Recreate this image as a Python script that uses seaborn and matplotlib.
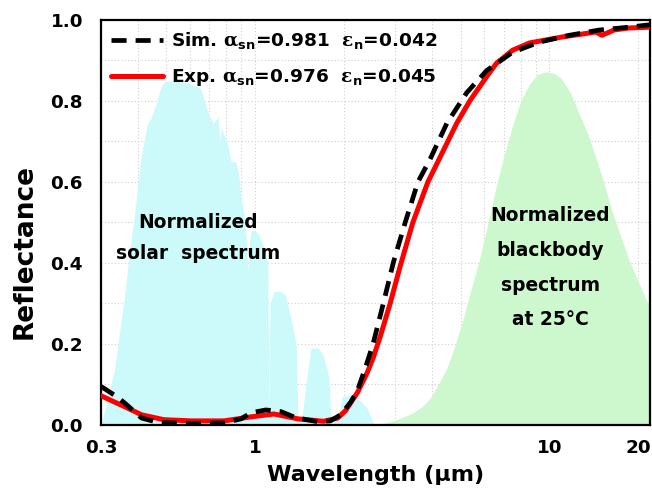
import matplotlib
matplotlib.use("Agg")
import matplotlib.pyplot as plt
from matplotlib.ticker import FixedLocator, FixedFormatter, MultipleLocator, FormatStrFormatter
import seaborn as sns
import pandas as pd

# Normalized AM1.5 solar spectrum (wavelength in um, normalized irradiance)
solar_wl = [0.300, 0.310, 0.322, 0.334, 0.350, 0.361, 0.375, 0.390, 0.410, 0.430,
            0.445, 0.460, 0.480, 0.490, 0.520, 0.550, 0.580, 0.620, 0.655, 0.673,
            0.694, 0.720, 0.750, 0.760, 0.768, 0.790, 0.810, 0.830, 0.860, 0.880,
            0.897, 0.920, 0.935, 0.947, 0.960, 0.970, 1.000, 1.030, 1.070, 1.106,
            1.115, 1.125, 1.160, 1.220, 1.270, 1.320, 1.380, 1.400, 1.440, 1.490,
            1.550, 1.640, 1.710, 1.780, 1.820, 1.920, 1.980, 2.110, 2.280, 2.410,
            2.520, 2.600]
solar_val = [0.00, 0.04, 0.09, 0.14, 0.25, 0.32, 0.43, 0.52, 0.66, 0.74,
             0.76, 0.79, 0.835, 0.845, 0.85, 0.85, 0.845, 0.84, 0.83, 0.80,
             0.77, 0.745, 0.76, 0.70, 0.735, 0.71, 0.69, 0.65, 0.65, 0.62,
             0.56, 0.52, 0.45, 0.38, 0.46, 0.48, 0.48, 0.47, 0.44, 0.40,
             0.03, 0.30, 0.33, 0.33, 0.32, 0.27, 0.20, 0.01, 0.01, 0.10,
             0.19, 0.19, 0.17, 0.12, 0.00, 0.02, 0.07, 0.075, 0.06, 0.04,
             0.005, 0.00]

# Normalized blackbody spectrum at 25 C
bb_wl = [2.60, 2.70, 3.00, 3.20, 3.44, 3.70, 3.93, 4.20, 4.49, 4.80,
         5.09, 5.40, 5.80, 6.20, 6.61, 7.00, 7.51, 8.00, 8.55, 9.10,
         9.75, 10.4, 11.0, 11.8, 12.6, 13.5, 14.4, 15.3, 16.3, 17.4,
         18.6, 19.9, 21.3, 23.0]
bb_val = [0.000, 0.003, 0.012, 0.020, 0.030, 0.045, 0.065, 0.100, 0.140, 0.200,
          0.260, 0.330, 0.410, 0.500, 0.590, 0.660, 0.740, 0.800, 0.840, 0.865,
          0.872, 0.868, 0.855, 0.820, 0.770, 0.720, 0.660, 0.600, 0.530, 0.470,
          0.410, 0.360, 0.310, 0.270]

# Simulated reflectance
sim_wl = [0.300, 0.339, 0.361, 0.412, 0.470, 0.608, 0.786, 0.897, 0.969, 1.089,
          1.224, 1.376, 1.633, 1.806, 1.953, 2.110, 2.230, 2.370, 2.520, 2.730,
          2.950, 3.240, 3.580, 3.930, 4.490, 5.240, 6.130, 7.500, 9.250, 11.70,
          14.80, 18.60, 22.00]
sim_r = [0.095, 0.070, 0.054, 0.017, 0.006, 0.004, 0.005, 0.015, 0.030, 0.037,
         0.033, 0.018, 0.008, 0.010, 0.025, 0.055, 0.085, 0.140, 0.200, 0.300,
         0.400, 0.500, 0.600, 0.655, 0.745, 0.820, 0.875, 0.920, 0.945, 0.962,
         0.975, 0.982, 0.988]

# Measured reflectance
exp_wl = [0.300, 0.330, 0.361, 0.412, 0.490, 0.608, 0.786, 0.969, 1.160, 1.400,
          1.710, 1.910, 2.030, 2.230, 2.410, 2.520, 2.670, 2.880, 3.110, 3.440,
          3.870, 4.250, 4.850, 5.370, 5.800, 6.270, 6.620, 7.500, 8.560, 11.10,
          14.40, 15.10, 16.60, 18.60, 22.00]
exp_r = [0.072, 0.058, 0.045, 0.025, 0.013, 0.010, 0.010, 0.020, 0.027, 0.015,
         0.009, 0.017, 0.035, 0.080, 0.130, 0.165, 0.220, 0.300, 0.390, 0.500,
         0.600, 0.660, 0.745, 0.800, 0.835, 0.870, 0.893, 0.925, 0.943, 0.958,
         0.970, 0.962, 0.975, 0.980, 0.982]

x_ticks = [0.3, 1, 10, 20]
x_ticklabels = ["0.3", "1", "10", "20"]
x_minor = [0.4, 0.5, 0.6, 0.7, 0.8, 0.9, 2, 3, 4, 5, 6, 7, 8, 9]

sns.set_style("white")
plt.rcParams["font.family"] = ["DejaVu Sans"]
plt.rcParams["font.weight"] = "bold"
plt.rcParams["text.color"] = "black"
plt.rcParams["axes.labelcolor"] = "black"
plt.rcParams["xtick.color"] = "black"
plt.rcParams["ytick.color"] = "black"
plt.rcParams["mathtext.fontset"] = "custom"
plt.rcParams["mathtext.rm"] = "DejaVu Sans:bold"
plt.rcParams["mathtext.bf"] = "DejaVu Sans:bold"
plt.rcParams["mathtext.it"] = "DejaVu Serif"

fig = plt.figure(figsize=(6.52, 4.97), dpi=100)
ax = fig.add_axes([0.155, 0.145, 0.842, 0.815])

ax.fill_between(solar_wl, 0, solar_val, color="#ccf9f9", lw=0, zorder=1)
ax.fill_between(bb_wl, 0, bb_val, color="#cdf7cd", lw=0, zorder=1)

sim_df = pd.DataFrame({"wl": sim_wl, "r": sim_r})
exp_df = pd.DataFrame({"wl": exp_wl, "r": exp_r})

sns.lineplot(data=sim_df, x="wl", y="r", ax=ax, color="black", lw=3.4,
             linestyle=(0, (3.2, 1.9)), estimator=None, sort=False,
             label=r"Sim. $\alpha_{\mathbf{sn}}$=0.981  $\varepsilon_{\mathbf{n}}$=0.042",
             zorder=4)
sns.lineplot(data=exp_df, x="wl", y="r", ax=ax, color="#ff0000", lw=3.6,
             estimator=None, sort=False,
             label=r"Exp. $\alpha_{\mathbf{sn}}$=0.976  $\varepsilon_{\mathbf{n}}$=0.045",
             zorder=3)

ax.set_xscale("log")
ax.set_xlim(0.3, 22)
ax.set_ylim(0, 1.0)

ax.xaxis.set_major_locator(FixedLocator(x_ticks))
ax.xaxis.set_major_formatter(FixedFormatter(x_ticklabels))
ax.xaxis.set_minor_locator(FixedLocator(x_minor))
ax.xaxis.set_minor_formatter(FixedFormatter([""] * len(x_minor)))
ax.yaxis.set_major_locator(MultipleLocator(0.2))
ax.yaxis.set_minor_locator(MultipleLocator(0.1))
ax.yaxis.set_major_formatter(FormatStrFormatter("%.1f"))

ax.set_axisbelow(True)
ax.grid(True, which="both", color="#d0d0d0", linestyle=(0, (1, 2)), lw=0.8)

for s in ax.spines.values():
    s.set_linewidth(1.6)
    s.set_color("black")

ax.tick_params(which="both", direction="in", top=False, right=False,
               width=1.6, labelsize=13.2)
ax.tick_params(which="major", length=6)
ax.tick_params(which="minor", length=4)
ax.tick_params(axis="y", pad=13)
ax.tick_params(axis="x", pad=10)
for lbl in ax.get_xticklabels() + ax.get_yticklabels():
    lbl.set_fontweight("bold")

ax.set_xlabel("Wavelength (\u03bcm)", fontsize=16, fontweight="bold", labelpad=6)
ax.set_ylabel("Reflectance", fontsize=19, fontweight="bold")
ax.yaxis.set_label_coords(-0.115, 0.427)

ax.text(0.64, 0.462, "Normalized\nsolar  spectrum", ha="center", va="center",
        fontsize=13.4, fontweight="bold", linespacing=1.83, zorder=5)
ax.text(10.1, 0.388, "Normalized\nblackbody\nspectrum\nat 25\u00b0C", ha="center",
        va="center", fontsize=13.4, fontweight="bold", linespacing=2.05, zorder=5)

leg = ax.legend(loc="upper left", frameon=False, prop={"size": 13.3, "weight": "bold"},
                handlelength=2.8, handletextpad=0.45, borderaxespad=0.2,
                borderpad=0.35, labelspacing=0.88)
leg.set_zorder(6)

fig.savefig("out.png", dpi=100)
